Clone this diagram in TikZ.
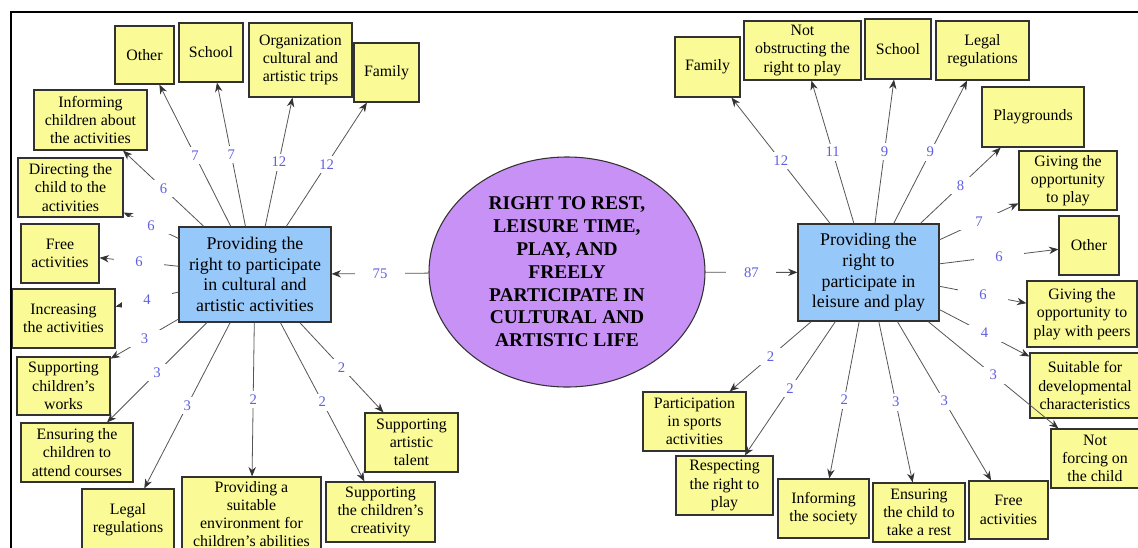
\documentclass[tikz,border=0pt]{standalone}
\usepackage{fontspec}
\setmainfont{Liberation Serif}
\usetikzlibrary{arrows.meta,shapes.geometric}
\definecolor{leafyellow}{RGB}{250,250,150}
\definecolor{midblue}{RGB}{150,200,250}
\definecolor{rootpurple}{RGB}{200,145,245}
\definecolor{labblue}{RGB}{95,95,225}
\definecolor{edgegray}{RGB}{85,85,85}
\definecolor{bordergray}{RGB}{50,50,50}
\newcommand\mybox[7][leaf]{\node[#1, minimum width={(#5-#3)*0.75pt}, minimum height={(#6-#4)*0.75pt}] (#2) at ({(#3+#5)/2},{(#4+#6)/2}) {#7};}
\begin{document}
\begin{tikzpicture}[x=0.75pt, y=-0.75pt,
  leaf/.style={draw=bordergray, fill=leafyellow, line width=0.9pt, inner sep=0pt, align=center, font=\fontsize{11.9}{13.7}\selectfont},
  mid/.style={draw=bordergray, fill=midblue, line width=0.9pt, inner sep=0pt, align=center, font=\fontsize{13.4}{15.5}\selectfont},
  root/.style={ellipse, draw=bordergray, fill=rootpurple, line width=0.8pt, inner sep=0pt, align=center, font=\bfseries\fontsize{14.6}{17.1}\selectfont},
  conn/.style={draw=edgegray, line width=0.6pt, -{Stealth[length=7pt,width=5.5pt,color=black!80]}},
  lab/.style={fill=white, text=labblue, inner sep=0pt, minimum width=37.5pt, minimum height=12.75pt, font=\fontsize{11}{12}\selectfont},
  frameline/.style={draw=black, line width=1.5pt}]
\useasboundingbox (0,0) rectangle (1138,547);
\clip (0,0) rectangle (1138,547);
\fill[white] (0,0) rectangle (1138,547);

% root and middle nodes
\node[root, minimum width=207pt, minimum height=172.5pt] (root) at (567,272)
  {RIGHT TO REST,\\LEISURE TIME,\\PLAY, AND\\FREELY\\PARTICIPATE IN\\CULTURAL AND\\ARTISTIC LIFE};
\mybox[mid]{lmid}{179}{227}{331}{322}{Providing the\\right to participate\\in cultural and\\artistic activities}
\mybox[mid]{rmid}{798}{224}{939}{321}{Providing the\\right to\\participate in\\leisure and play}

% left leaves
\mybox{l1}{115}{26}{174}{84}{Other}
\mybox{l2}{179}{23}{243}{82}{School}
\mybox{l3}{249}{23}{352}{97}{Organization\\cultural and\\artistic trips}
\mybox{l4}{354}{43}{419}{102}{Family}
\mybox{l5}{34}{90}{147}{150}{Informing\\children about\\the activities}
\mybox{l6}{18}{158}{123}{217}{Directing the\\child to the\\activities}
\mybox{l7}{21}{224}{99}{283}{Free\\activities}
\mybox{l8}{12}{289}{115}{348}{Increasing\\the activities}
\mybox{l9}{17}{357}{110}{415}{Supporting\\children's\\works}
\mybox{l10}{21}{423}{133}{482}{Ensuring the\\children to\\attend courses}
\mybox{l11}{82}{489}{174}{551}{Legal\\regulations}
\mybox{l12}{182}{477}{321}{551}{Providing a\\suitable\\environment for\\children's abilities}
\mybox{l13}{326}{482}{435}{542}{Supporting\\the children's\\creativity}
\mybox{l14}{365}{413}{458}{472}{Supporting\\artistic\\talent}

% right leaves
\mybox{r1}{675}{37}{740}{97}{Family}
\mybox{r2}{744}{21}{861}{80}{Not\\obstructing the\\right to play}
\mybox{r3}{865}{19}{931}{79}{School}
\mybox{r4}{936}{21}{1029}{80}{Legal\\regulations}
\mybox{r5}{982}{87}{1084}{147}{Playgrounds}
\mybox{r6}{1019}{151}{1117}{210}{Giving the\\opportunity\\to play}
\mybox{r7}{1059}{216}{1119}{275}{Other}
\mybox{r8}{1027}{281}{1137}{347}{Giving the\\opportunity to\\play with peers}
\mybox{r9}{1030}{353}{1140}{418}{Suitable for\\developmental\\characteristics}
\mybox{r10}{1051}{429}{1139}{488}{Not\\forcing on\\the child}
\mybox{r11}{643}{392}{746}{451}{Participation\\in sports\\activities}
\mybox{r12}{676}{456}{773}{515}{Respecting\\the right to\\play}
\mybox{r13}{778}{479}{869}{538}{Informing\\the society}
\mybox{r14}{873}{483}{965}{542}{Ensuring\\the child to\\take a rest}
\mybox{r15}{969}{481}{1048}{539}{Free\\activities}

% root edges
\draw[conn] (root) -- node[lab]{75} (lmid);
\draw[conn] (root) -- node[lab]{87} (rmid);

% left edges
\draw[conn] (lmid) -- node[lab]{7} (l1);
\draw[conn] (lmid) -- node[lab]{7} (l2);
\draw[conn] (lmid) -- node[lab]{12} (l3);
\draw[conn] (lmid) -- node[lab]{12} (l4);
\draw[conn] (lmid) -- node[lab]{6} (l5);
\draw[conn] (lmid) -- node[lab]{6} (l6);
\draw[conn] (lmid) -- node[lab]{6} (l7);
\draw[conn] (lmid) -- node[lab]{4} (l8);
\draw[conn] (lmid) -- node[lab]{3} (l9);
\draw[conn] (lmid) -- node[lab]{3} (l10);
\draw[conn] (lmid) -- node[lab]{3} (l11);
\draw[conn] (lmid) -- node[lab]{2} (l12);
\draw[conn] (lmid) -- node[lab]{2} (l13);
\draw[conn] (lmid) -- node[lab]{2} (l14);

% right edges
\draw[conn] (rmid) -- node[lab]{12} (r1);
\draw[conn] (rmid) -- node[lab]{11} (r2);
\draw[conn] (rmid) -- node[lab]{9} (r3);
\draw[conn] (rmid) -- node[lab]{9} (r4);
\draw[conn] (rmid) -- node[lab]{8} (r5);
\draw[conn] (rmid) -- node[lab]{7} (r6);
\draw[conn] (rmid) -- node[lab]{6} (r7);
\draw[conn] (rmid) -- node[lab]{6} (r8);
\draw[conn] (rmid) -- node[lab]{4} (r9);
\draw[conn] (rmid) -- node[lab]{3} (r10);
\draw[conn] (rmid) -- node[lab]{2} (r11);
\draw[conn] (rmid) -- node[lab]{2} (r12);
\draw[conn] (rmid) -- node[lab]{2} (r13);
\draw[conn] (rmid) -- node[lab]{3} (r14);
\draw[conn] (rmid) -- node[lab]{3} (r15);

% frame
\coordinate (fbl) at (11,548);
\coordinate (ftl) at (11,12);
\coordinate (ftr) at (1139,12);
\draw[frameline] (fbl) -- (ftl) -- (ftr);
\end{tikzpicture}
\end{document}
